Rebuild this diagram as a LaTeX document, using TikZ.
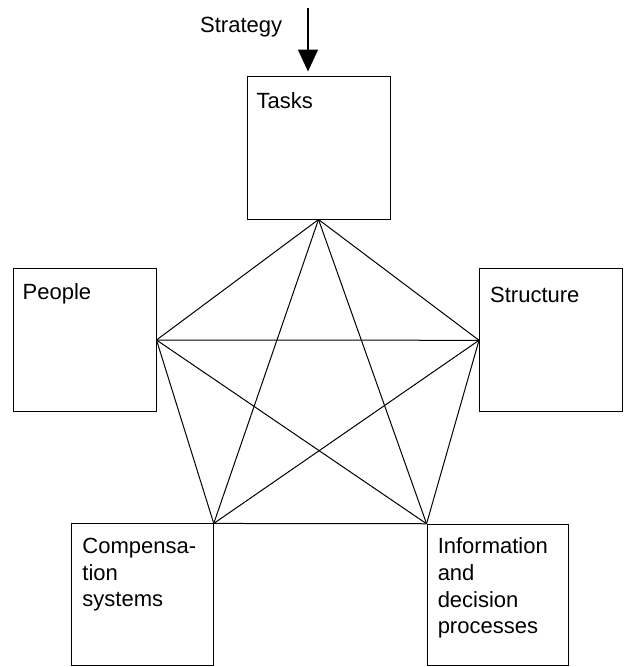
\documentclass[tikz,border=0pt]{standalone}
\usepackage{fontspec}
\setmainfont{Liberation Sans}
\usetikzlibrary{arrows.meta}
\begin{document}
\begin{tikzpicture}[x=1pt,y=-1pt,
  box/.style={draw, line width=1pt, inner sep=0pt, minimum width=#1, minimum height=#1},
  box/.default=143pt,
  lbl/.style={anchor=base west, inner sep=0pt, align=left,
    font=\fontsize{22}{26.7}\selectfont},
  link/.style={line width=1pt},
  feed/.style={line width=1.7pt, -{Triangle[width=20pt,length=22pt]}}]
  \useasboundingbox (0,0) rectangle (626,667);

  % the five elements
  \node[box] (tasks) at (318.5,147.5) {};
  \node[box] (people) at (84.5,340) {};
  \node[box] (structure) at (551,340.3) {};
  \node[box=141.5pt] (comp) at (142.5,594.7) {};
  \node[box=141.5pt] (info) at (497.8,595) {};

  % their names (a multi-line node sits on the baseline of its last line)
  \node[lbl] (tasksT) at ([shift={(10,33)}]tasks.north west) {Tasks};
  \node[lbl] (peopleT) at ([shift={(10,31)}]people.north west) {People};
  \node[lbl] (structureT) at ([shift={(11,34)}]structure.north west) {Structure};
  \node[lbl] (compT) at ([shift={(11,83.4)}]comp.north west) {Compensa-\\tion\\systems};
  \node[lbl] (infoT) at ([shift={(11,110.1)}]info.north west) {Information\\and\\decision\\processes};

  % strategy feeding into the tasks
  \coordinate (stratTop) at (308,8);
  \node[lbl] (strategy) at (200,32) {Strategy};
  \draw[feed, shorten >=4pt] (stratTop) -- (stratTop |- tasks.north);

  % every element linked to every other one
  \draw[link] (tasks.south) -- (people.east);
  \draw[link] (tasks.south) -- (structure.west);
  \draw[link] (tasks.south) -- (comp.north east);
  \draw[link] (tasks.south) -- (info.north west);
  \draw[link] (people.east) -- (structure.west);
  \draw[link] (people.east) -- (comp.north east);
  \draw[link] (people.east) -- (info.north west);
  \draw[link] (structure.west) -- (comp.north east);
  \draw[link] (structure.west) -- (info.north west);
  \draw[link] (comp.north east) -- (info.north west);
\end{tikzpicture}
\end{document}
